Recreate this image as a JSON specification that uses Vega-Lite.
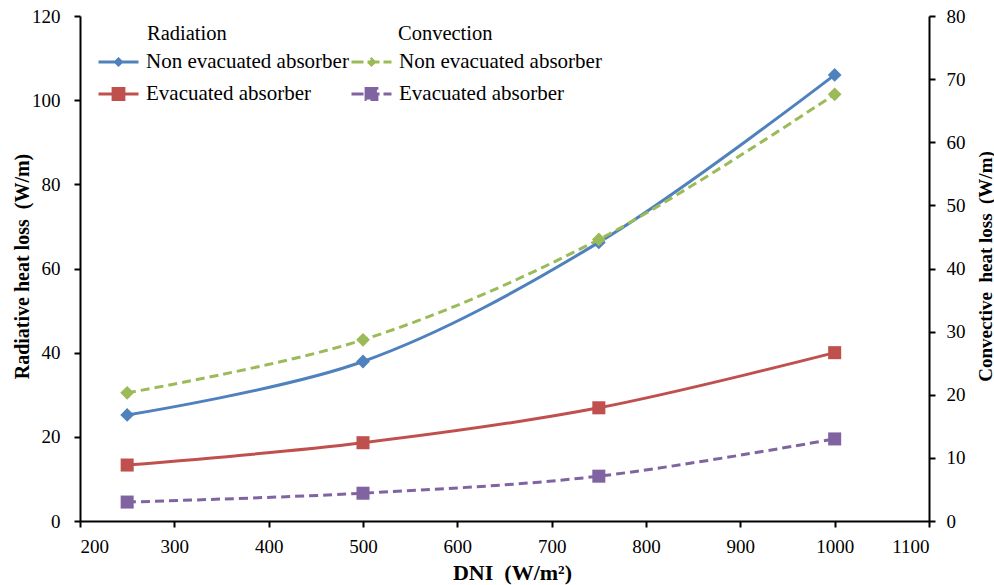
{
  "$schema": "https://vega.github.io/schema/vega-lite/v6.json",
  "width": 849,
  "height": 505,
  "autosize": {"type": "none"},
  "padding": {"left": 80, "top": 16, "right": 65, "bottom": 64},
  "background": "white",
  "config": {
    "view": {"stroke": null},
    "font": "Liberation Serif",
    "axis": {
      "grid": false,
      "domainColor": "black",
      "domainWidth": 2,
      "tickColor": "black",
      "tickWidth": 2,
      "tickSize": 6,
      "labelFont": "Liberation Serif",
      "labelFontSize": 19,
      "labelColor": "black",
      "titleFont": "Liberation Serif",
      "titleFontSize": 20,
      "titleFontWeight": "bold",
      "titleColor": "black"
    },
    "legend": {
      "orient": "none",
      "titleFont": "Liberation Serif",
      "titleFontSize": 20.5,
      "titleFontWeight": "normal",
      "titleColor": "black",
      "labelFont": "Liberation Serif",
      "labelFontSize": 21,
      "labelColor": "black",
      "labelLimit": 400,
      "labelOffset": 6,
      "symbolSize": 1600,
      "rowPadding": -8,
      "titlePadding": -4,
      "padding": 0
    }
  },
  "data": {
    "values": [
      {"group": "Radiation", "absorber": "Non evacuated absorber", "dni": 250, "loss": 25.2},
      {"group": "Radiation", "absorber": "Non evacuated absorber", "dni": 500, "loss": 37.9},
      {"group": "Radiation", "absorber": "Non evacuated absorber", "dni": 750, "loss": 66.2},
      {"group": "Radiation", "absorber": "Non evacuated absorber", "dni": 1000, "loss": 106.0},
      {"group": "Radiation", "absorber": "Evacuated absorber", "dni": 250, "loss": 13.3},
      {"group": "Radiation", "absorber": "Evacuated absorber", "dni": 500, "loss": 18.6},
      {"group": "Radiation", "absorber": "Evacuated absorber", "dni": 750, "loss": 26.9},
      {"group": "Radiation", "absorber": "Evacuated absorber", "dni": 1000, "loss": 40.0},
      {"group": "Convection", "absorber": "Non evacuated absorber", "dni": 250, "loss": 20.3},
      {"group": "Convection", "absorber": "Non evacuated absorber", "dni": 500, "loss": 28.7},
      {"group": "Convection", "absorber": "Non evacuated absorber", "dni": 750, "loss": 44.6},
      {"group": "Convection", "absorber": "Non evacuated absorber", "dni": 1000, "loss": 67.6},
      {"group": "Convection", "absorber": "Evacuated absorber", "dni": 250, "loss": 3.0},
      {"group": "Convection", "absorber": "Evacuated absorber", "dni": 500, "loss": 4.4},
      {"group": "Convection", "absorber": "Evacuated absorber", "dni": 750, "loss": 7.1},
      {"group": "Convection", "absorber": "Evacuated absorber", "dni": 1000, "loss": 13.0}
    ]
  },
  "layer": [
    {
      "transform": [{"filter": "datum.group === 'Radiation'"}],
      "encoding": {
        "x": {
          "field": "dni",
          "type": "quantitative",
          "scale": {"domain": [200, 1100], "nice": false},
          "axis": {
            "values": [200, 300, 400, 500, 600, 700, 800, 900, 1000, 1100],
            "format": "d",
            "title": "DNI\u00a0 (W/m²)",
            "titleFontSize": 22,
            "labelPadding": 10,
            "titleX": 432,
            "titleY": 51,
            "titleAlign": "center",
            "titleBaseline": "middle"
          }
        },
        "y": {
          "field": "loss",
          "type": "quantitative",
          "scale": {"domain": [0, 120], "nice": false},
          "axis": {
            "orient": "left",
            "values": [0, 20, 40, 60, 80, 100, 120],
            "title": "Radiative heat loss\u00a0 (W/m)",
            "labelPadding": 14,
            "titleAngle": 270,
            "titleX": -58,
            "titleY": 250,
            "titleBaseline": "middle",
            "titleAlign": "center"
          }
        },
        "color": {
          "field": "absorber",
          "type": "nominal",
          "scale": {"domain": ["Non evacuated absorber", "Evacuated absorber"], "range": ["#4F81BD", "#C0504D"]},
          "legend": {
            "title": "Radiation",
            "legendX": 17,
            "legendY": 8,
            "encode": {
              "title": {"update": {"dx": {"value": 50}}},
              "symbols": {
                "update": {
                  "shape": {"signal": "datum.value === 'Non evacuated absorber' ? 'M-1,0H1M0,-0.15L0.15,0L0,0.15L-0.15,0Z' : 'M-1,0H1M-0.27,-0.27H0.27V0.27H-0.27Z'"},
                  "fill": {"signal": "datum.value === 'Non evacuated absorber' ? '#4F81BD' : '#C0504D'"},
                  "stroke": {"signal": "datum.value === 'Non evacuated absorber' ? '#4F81BD' : '#C0504D'"},
                  "strokeWidth": {"value": 3},
                  "opacity": {"value": 1},
                  "fillOpacity": {"value": 1},
                  "size": {"value": 1600}
                }
              }
            }
          }
        }
      },
      "layer": [
        {"mark": {"type": "line", "interpolate": "catmull-rom", "strokeWidth": 3}},
        {
          "transform": [{"filter": "datum.absorber === 'Non evacuated absorber'"}],
          "mark": {"type": "point", "shape": "diamond", "filled": true, "size": 190, "opacity": 1}
        },
        {
          "transform": [{"filter": "datum.absorber === 'Evacuated absorber'"}],
          "mark": {"type": "point", "shape": "square", "filled": true, "size": 170, "opacity": 1}
        }
      ]
    },
    {
      "transform": [{"filter": "datum.group === 'Convection'"}],
      "encoding": {
        "x": {
          "field": "dni",
          "type": "quantitative",
          "scale": {"domain": [200, 1100], "nice": false}
        },
        "y": {
          "field": "loss",
          "type": "quantitative",
          "scale": {"domain": [0, 80], "nice": false},
          "axis": {
            "orient": "right",
            "values": [0, 10, 20, 30, 40, 50, 60, 70, 80],
            "title": "Convective\u00a0 heat loss\u00a0 (W/m)",
            "titleFontSize": 19,
            "labelPadding": 11,
            "titleAngle": 270,
            "titleX": 56,
            "titleY": 250,
            "titleBaseline": "middle",
            "titleAlign": "center"
          }
        },
        "color": {
          "field": "absorber",
          "type": "nominal",
          "scale": {"domain": ["Non evacuated absorber", "Evacuated absorber"], "range": ["#9BBB59", "#8064A2"]},
          "legend": {
            "title": "Convection",
            "legendX": 270,
            "legendY": 8,
            "encode": {
              "title": {"update": {"dx": {"value": 48}}},
              "symbols": {
                "update": {
                  "shape": {"signal": "datum.value === 'Non evacuated absorber' ? 'M-1,0H1M0,-0.15L0.15,0L0,0.15L-0.15,0Z' : 'M-1,0H1M-0.27,-0.27H0.27V0.27H-0.27Z'"},
                  "fill": {"signal": "datum.value === 'Non evacuated absorber' ? '#9BBB59' : '#8064A2'"},
                  "stroke": {"signal": "datum.value === 'Non evacuated absorber' ? '#9BBB59' : '#8064A2'"},
                  "strokeWidth": {"value": 3},
                  "strokeDash": {"value": [12, 4]},
                  "opacity": {"value": 1},
                  "fillOpacity": {"value": 1},
                  "size": {"value": 1600}
                }
              }
            }
          }
        }
      },
      "layer": [
        {"mark": {"type": "line", "interpolate": "catmull-rom", "strokeWidth": 3, "strokeDash": [9, 5]}},
        {
          "transform": [{"filter": "datum.absorber === 'Non evacuated absorber'"}],
          "mark": {"type": "point", "shape": "diamond", "filled": true, "size": 190, "opacity": 1}
        },
        {
          "transform": [{"filter": "datum.absorber === 'Evacuated absorber'"}],
          "mark": {"type": "point", "shape": "square", "filled": true, "size": 170, "opacity": 1}
        }
      ]
    }
  ],
  "resolve": {"scale": {"y": "independent", "color": "independent"}}
}
